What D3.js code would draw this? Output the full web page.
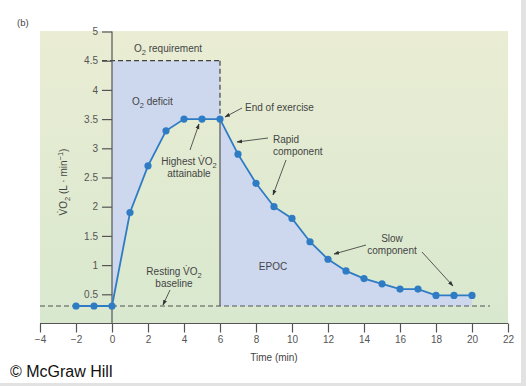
<!DOCTYPE html>
<meta charset="utf-8">
<style>
body { margin: 0; background: #fff; }
svg text { font-family: "Liberation Sans", Arial, sans-serif; }
</style>
<body>
<script src="https://cdn.jsdelivr.net/npm/d3@7"></script>
<script>
var width = 526
var height = 386

// time (min) and oxygen uptake (L/min)
var times = [-2, -1, 0, 1, 2, 3, 4, 5, 6, 7, 8, 9, 10, 11, 12, 13, 14, 15, 16, 17, 18, 19, 20]
var vo2 = [0.3, 0.3, 0.3, 1.9, 2.7, 3.3, 3.5, 3.5, 3.5, 2.9, 2.4, 2.0, 1.8, 1.4, 1.1, 0.9, 0.77, 0.68, 0.59, 0.59, 0.48, 0.48, 0.48]
var xTicks = [-4, -2, 0, 2, 4, 6, 8, 10, 12, 14, 16, 18, 20, 22]
var yTicks = [0.5, 1, 1.5, 2, 2.5, 3, 3.5, 4, 4.5, 5]
var baseline = 0.3
var requirement = 4.5
var exerciseStart = 0
var exerciseEnd = 6

var points = times.map(function (t, i) { return { t: t, v: vo2[i] } })

var x = d3.scaleLinear().domain([-4, 22]).range([40, 508])
var y = d3.scaleLinear().domain([0, 5]).range([323.5, 31.5])

var svg = d3.select('body').append('svg')
    .attr('width', width)
    .attr('height', height)

var defs = svg.append('defs')
var grad = defs.append('linearGradient')
    .attr('id', 'bg').attr('x1', 0).attr('y1', 0).attr('x2', 0).attr('y2', 1)
grad.append('stop').attr('offset', '0%').attr('stop-color', '#eaedd4')
grad.append('stop').attr('offset', '100%').attr('stop-color', '#d8e8ce')

defs.append('marker')
    .attr('id', 'arrow')
    .attr('viewBox', '0 0 10 10')
    .attr('refX', 9).attr('refY', 5)
    .attr('markerWidth', 7).attr('markerHeight', 7)
    .attr('orient', 'auto')
    .append('path')
    .attr('d', 'M0,1.5 L10,5 L0,8.5 Z')
    .attr('fill', '#333')

// page frame strips
svg.append('rect').attr('x', 521).attr('y', 0).attr('width', 5).attr('height', height).attr('fill', '#e2e2e2')
svg.append('rect').attr('x', 0).attr('y', 383).attr('width', 521).attr('height', 3).attr('fill', '#e2e2e2')

svg.append('rect')
    .attr('x', x(-4)).attr('y', y(5) - 0.5)
    .attr('width', x(22) - x(-4)).attr('height', y(0) - y(5) + 0.5)
    .attr('fill', 'url(#bg)')

// O2 deficit
var deficit = points.filter(function (d) { return d.t >= exerciseStart && d.t <= exerciseEnd })
svg.append('path')
    .datum(deficit)
    .attr('fill', '#cdd8ee')
    .attr('d', d3.area()
        .x(function (d) { return x(d.t) })
        .y0(y(requirement))
        .y1(function (d) { return y(d.v) }))

// EPOC
var epoc = points.filter(function (d) { return d.t >= exerciseEnd })
svg.append('path')
    .datum(epoc)
    .attr('fill', '#cdd8ee')
    .attr('d', d3.area()
        .x(function (d) { return x(d.t) })
        .y0(y(baseline))
        .y1(function (d) { return y(d.v) }))

// reference lines
svg.append('line')
    .attr('x1', x(exerciseStart) - 10).attr('x2', x(exerciseEnd))
    .attr('y1', y(requirement)).attr('y2', y(requirement))
    .attr('stroke', '#444').attr('stroke-width', 1.2).attr('stroke-dasharray', '5,3')
svg.append('line')
    .attr('x1', x(exerciseEnd)).attr('x2', x(exerciseEnd))
    .attr('y1', y(requirement)).attr('y2', y(3.5))
    .attr('stroke', '#444').attr('stroke-width', 1.2).attr('stroke-dasharray', '5,3')
svg.append('line')
    .attr('x1', x(exerciseEnd)).attr('x2', x(exerciseEnd))
    .attr('y1', y(3.5)).attr('y2', y(baseline))
    .attr('stroke', '#555').attr('stroke-width', 1.2)
svg.append('line')
    .attr('x1', x(-4)).attr('x2', x(21))
    .attr('y1', y(baseline)).attr('y2', y(baseline))
    .attr('stroke', '#555').attr('stroke-width', 1.2).attr('stroke-dasharray', '5,3')

// axes
var yAxis = svg.append('g')
    .attr('transform', 'translate(' + x(0) + ',0)')
    .call(d3.axisLeft(y).tickValues(yTicks).tickSize(10).tickPadding(4)
        .tickFormat(function (d) { return d }))
var xAxis = svg.append('g')
    .attr('transform', 'translate(0,' + y(0) + ')')
    .call(d3.axisBottom(x).tickValues(xTicks).tickSize(9).tickPadding(3)
        .tickFormat(function (d) { return d < 0 ? '\u2212' + (-d) : d }))
;[xAxis, yAxis].forEach(function (g) {
    g.select('.domain').attr('stroke', '#555').attr('stroke-width', 1.2)
    g.selectAll('.tick line').attr('stroke', '#555').attr('stroke-width', 1.2)
    g.selectAll('.tick text').attr('fill', '#555').style('font-size', '10px')
})
xAxis.select('.domain').attr('d', 'M' + x(-4) + ',0H' + x(22))
yAxis.select('.domain').attr('d', 'M0,' + y(5) + 'V' + y(0))

// data line
svg.append('path')
    .datum(points)
    .attr('fill', 'none')
    .attr('stroke', '#2f7cc4')
    .attr('stroke-width', 1.8)
    .attr('d', d3.line().x(function (d) { return x(d.t) }).y(function (d) { return y(d.v) }))
svg.selectAll('.pt')
    .data(points)
    .enter().append('circle')
    .attr('class', 'pt')
    .attr('cx', function (d) { return x(d.t) })
    .attr('cy', function (d) { return y(d.v) })
    .attr('r', 3.6)
    .attr('fill', '#2f7cc4')

// labels; parts are [text, shift] where shift is px down (+) or up (-)
function label(tx, ty, parts, anchor, size) {
    var t = svg.append('text')
        .attr('x', tx).attr('y', ty)
        .attr('text-anchor', anchor || 'start')
        .attr('fill', '#444')
        .style('font-size', (size || 10) + 'px')
    var cur = 0
    parts.forEach(function (p) {
        var shift = p[1] || 0
        var s = t.append('tspan').text(p[0]).attr('dy', shift - cur)
        if (shift) s.style('font-size', '0.75em')
        cur = shift
    })
    return t
}
function arrow(x1, y1, x2, y2) {
    svg.append('line')
        .attr('x1', x1).attr('y1', y1).attr('x2', x2).attr('y2', y2)
        .attr('stroke', '#333').attr('stroke-width', 0.8)
        .attr('marker-end', 'url(#arrow)')
}

svg.append('text').attr('x', 17).attr('y', 26).attr('fill', '#444')
    .style('font-size', '9.5px').text('(b)')

label(134, 52, [['O'], ['2', 3], [' requirement']])
label(132, 105, [['O'], ['2', 3], [' deficit']])
label(189, 165, [['Highest V\u0307O'], ['2', 3]], 'middle')
label(189, 177, [['attainable']], 'middle')
arrow(190, 150, 199, 124)
label(245, 111, [['End of exercise']])
arrow(242, 108, 225, 117)
label(273, 143, [['Rapid']])
label(273, 155, [['component']])
arrow(268, 138, 237, 142)
arrow(286, 160, 273, 195)
label(174, 275, [['Resting V\u0307O'], ['2', 3]], 'middle')
label(174, 287, [['baseline']], 'middle')
arrow(170, 290, 163, 305)
label(273, 270, [['EPOC']], 'middle')
label(392, 242, [['Slow']], 'middle')
label(392, 254, [['component']], 'middle')
arrow(366, 245, 334, 254)
arrow(422, 252, 453, 286)

// axis titles
svg.append('text')
    .attr('x', x(9)).attr('y', 361)
    .attr('text-anchor', 'middle').attr('fill', '#444')
    .style('font-size', '10px').text('Time (min)')
var yl = svg.append('text')
    .attr('transform', 'translate(67,182) rotate(-90)')
    .attr('text-anchor', 'middle').attr('fill', '#444')
    .style('font-size', '10px')
yl.append('tspan').text('V\u0307O')
yl.append('tspan').attr('dy', 3).style('font-size', '0.75em').text('2')
yl.append('tspan').attr('dy', -3).text(' (L \u00b7 min')
yl.append('tspan').attr('dy', -4).style('font-size', '0.75em').text('\u22121')
yl.append('tspan').attr('dy', 4).text(')')

svg.append('text').attr('x', 10).attr('y', 377).attr('fill', '#111')
    .style('font-size', '16px').text('\u00a9 McGraw Hill')
</script>
</body>
